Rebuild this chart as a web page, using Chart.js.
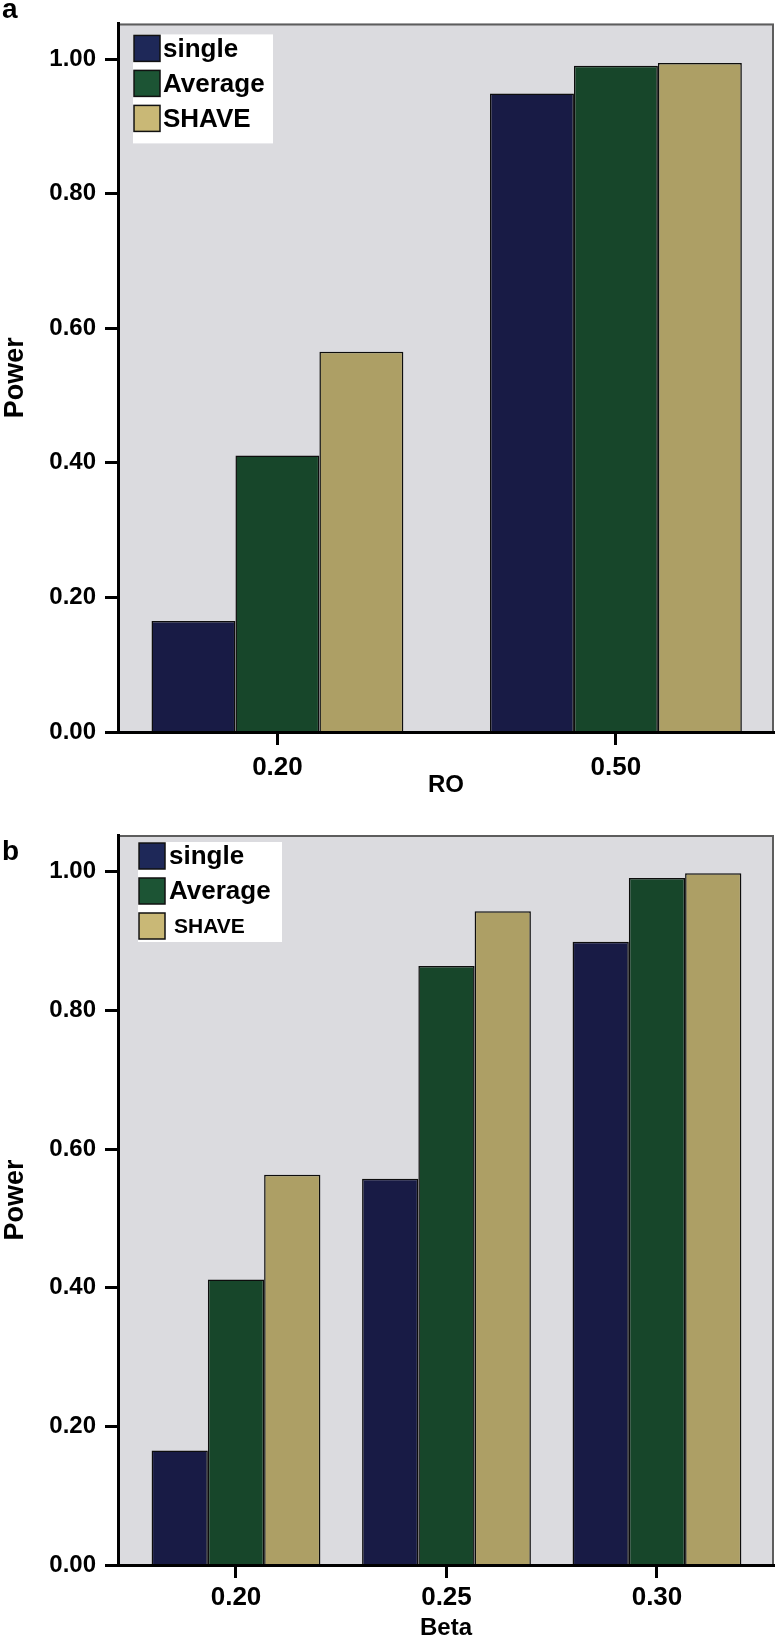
<!DOCTYPE html>
<html>
<head>
<meta charset="utf-8">
<title>Power by RO and Beta</title>
<script src="https://cdn.jsdelivr.net/npm/chart.js@4.4.0/dist/chart.umd.min.js"></script>
<style>
  html, body { margin: 0; padding: 0; background: #fff; }
  #wrapA { position: absolute; left: 0; top: 0; width: 779px; height: 797px; }
  #wrapB { position: absolute; left: 0; top: 800px; width: 779px; height: 840px; }
</style>
</head>
<body>
<div id="wrapA"><canvas id="chartA"></canvas></div>
<div id="wrapB"><canvas id="chartB"></canvas></div>
<script>
var seriesNames = ['single', 'Average', 'SHAVE'];

// panel a : power against RO
var roLabels = ['0.20', '0.50'];
var roSingle = [0.165, 0.949];
var roAverage = [0.411, 0.990];
var roShave = [0.565, 0.994];

// panel b : power against Beta
var betaLabels = ['0.20', '0.25', '0.30'];
var betaSingle = [0.165, 0.557, 0.899];
var betaAverage = [0.412, 0.864, 0.991];
var betaShave = [0.563, 0.943, 0.998];

var yTicks = [0, 0.2, 0.4, 0.6, 0.8, 1.0];

var barColors = ['#181b45', '#17462a', '#ad9f65'];
var keyColors = ['#1e2858', '#1c5434', '#c9b876'];
var plotBg = '#dbdbdf';
var fontFamily = '"Liberation Sans", Arial, Helvetica, sans-serif';

function makeSets(values) {
    return values.map(function(vals, k) {
        return {
            label: seriesNames[k],
            data: vals.map(function(v, i) { return {x: i, y: v}; }),
            backgroundColor: barColors[k],
            borderColor: '#0d0d0d',
            borderWidth: 1.5,
            borderSkipped: 'bottom'
        };
    });
}

// grey plot background, thin frame, white key box and the panel letter
var panelDeco = {
    id: 'panelDeco',
    beforeDraw: function(chart) {
        var a = chart.chartArea, ctx = chart.ctx;
        ctx.save();
        ctx.fillStyle = plotBg;
        ctx.fillRect(a.left, a.top, a.right - a.left, a.bottom - a.top);
        ctx.restore();
    },
    afterDatasetsDraw: function(chart, args, opts) {
        var a = chart.chartArea, ctx = chart.ctx;
        ctx.save();
        ctx.strokeStyle = '#5d5d5d';
        ctx.lineWidth = 2;
        ctx.beginPath();
        ctx.moveTo(a.left, a.top + 1);
        ctx.lineTo(a.right - 1, a.top + 1);
        ctx.lineTo(a.right - 1, a.bottom);
        ctx.stroke();

        var lg = opts.legend;
        ctx.fillStyle = '#fff';
        ctx.fillRect(a.left + lg.x, a.top + lg.y, lg.w, lg.h);
        chart.data.datasets.forEach(function(ds, k) {
            var bx = a.left + lg.boxX;
            var by = a.top + lg.boxY + k * lg.step;
            ctx.fillStyle = keyColors[k];
            ctx.fillRect(bx, by, lg.box, lg.box);
            ctx.strokeStyle = '#111';
            ctx.lineWidth = 1.5;
            ctx.strokeRect(bx, by, lg.box, lg.box);
            ctx.fillStyle = '#000';
            ctx.font = 'bold ' + lg.sizes[k] + 'px ' + fontFamily;
            ctx.textBaseline = 'middle';
            ctx.textAlign = 'left';
            ctx.fillText(ds.label, bx + lg.box + lg.gap[k], by + lg.box / 2 + 1);
        });

        ctx.fillStyle = '#000';
        ctx.font = 'bold 28px ' + fontFamily;
        ctx.textBaseline = 'alphabetic';
        ctx.textAlign = 'left';
        ctx.fillText(opts.letter, opts.letterX, opts.letterY);
        ctx.restore();
    }
};

function yScale() {
    return {
        min: 0,
        max: 1.053,
        afterBuildTicks: function(s) {
            s.ticks = yTicks.map(function(v) { return {value: v}; });
        },
        afterFit: function(s) { s.width = 118; },
        border: {display: true, color: '#000', width: 3, z: 1},
        grid: {drawOnChartArea: false, drawTicks: true, tickLength: 13, tickWidth: 3, tickColor: '#000'},
        ticks: {
            color: '#000',
            padding: 9,
            font: {family: fontFamily, size: 24, weight: 'bold'},
            callback: function(v) { return Number(v).toFixed(2); }
        },
        title: {
            display: true,
            text: 'Power',
            color: '#000',
            font: {family: fontFamily, size: 27, weight: 'bold', lineHeight: 1},
            padding: {top: 2, bottom: 0}
        }
    };
}

function xScale(labels, lo, hi, titleText, pad, height) {
    return {
        type: 'linear',
        min: lo,
        max: hi,
        offset: false,
        afterBuildTicks: function(s) {
            s.ticks = labels.map(function(l, i) { return {value: i}; });
        },
        afterFit: function(s) { s.height = height; },
        border: {display: true, color: '#000', width: 3, z: 1},
        grid: {offset: false, drawOnChartArea: false, drawTicks: true, tickLength: 13, tickWidth: 3, tickColor: '#000'},
        ticks: {
            autoSkip: false,
            maxRotation: 0,
            padding: pad,
            color: '#000',
            font: {family: fontFamily, size: 26, weight: 'bold'},
            callback: function(v) { return labels[v]; }
        },
        title: {
            display: true,
            text: titleText,
            color: '#000',
            font: {family: fontFamily, size: 24, weight: 'bold', lineHeight: 1},
            padding: {top: 0, bottom: 0}
        }
    };
}

function makeChart(id, values, labels, lo, hi, titleText, pad, xHeight, topPad, deco) {
    var ctx = document.getElementById(id).getContext('2d');
    return new Chart(ctx, {
        type: 'bar',
        data: {datasets: makeSets(values)},
        options: {
            responsive: true,
            maintainAspectRatio: false,
            animation: false,
            layout: {padding: {top: topPad, right: 5, bottom: 0, left: 0}},
            datasets: {bar: {barPercentage: 1.0, categoryPercentage: deco.catPct}},
            scales: {
                x: xScale(labels, lo, hi, titleText, pad, xHeight),
                y: yScale()
            },
            plugins: {
                legend: {display: false},
                tooltip: {enabled: false},
                panelDeco: deco
            }
        },
        plugins: [panelDeco]
    });
}

makeChart('chartA', [roSingle, roAverage, roShave], roLabels, -0.471, 1.467, 'RO', 7, 65, 3, {
    catPct: 0.744,
    letter: 'a', letterX: 2, letterY: 18,
    legend: {x: 15, y: 11, w: 140, h: 109, boxX: 16, boxY: 12, box: 26, step: 35,
             gap: [3, 3, 3], sizes: [26, 26, 26]}
});

makeChart('chartB', [betaSingle, betaAverage, betaShave], betaLabels, -0.5606, 2.556, 'Beta', 4, 75, 35, {
    catPct: 0.802,
    letter: 'b', letterX: 2, letterY: 60,
    legend: {x: 20, y: 7, w: 144, h: 100, boxX: 21, boxY: 8, box: 26, step: 35,
             gap: [4, 4, 9], sizes: [26, 26, 21]}
});
</script>
</body>
</html>
